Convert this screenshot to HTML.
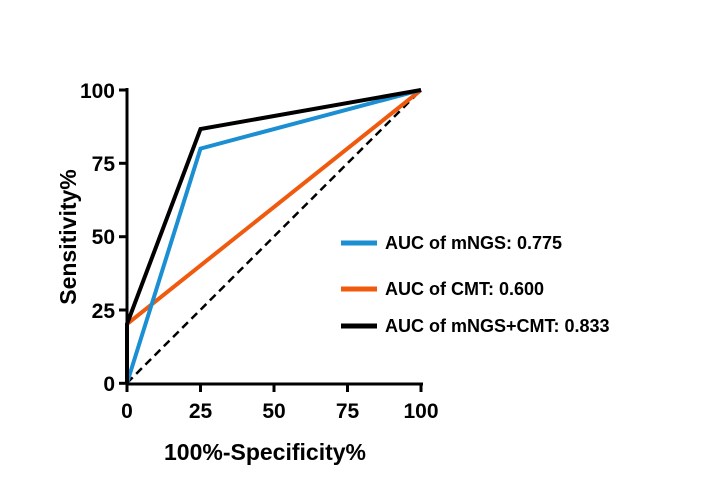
<!DOCTYPE html>
<html><head><style>body{margin:0;background:#fff}</style></head><body>
<svg width="706" height="497" xmlns="http://www.w3.org/2000/svg" font-family="Liberation Sans, sans-serif" font-weight="bold">
<rect width="706" height="497" fill="#fff"/>
<g stroke-linecap="butt" fill="none">
<line x1="127" y1="383" x2="421" y2="90" stroke="#000" stroke-width="2.5" stroke-dasharray="8,5"/>
<polyline points="127,383 127,324 421,90" stroke="#f05a0e" stroke-width="4"/>
<polyline points="127,383 200.5,148.6 421,90" stroke="#1b8fd2" stroke-width="4"/>
<polyline points="127,383 127,324 200.5,129 421,90" stroke="#000" stroke-width="4"/>
<polyline points="127,88 127,384 423,384" stroke="#000" stroke-width="3"/>
<g stroke="#000" stroke-width="3">
<line x1="119" y1="90" x2="127" y2="90"/><line x1="119" y1="163.3" x2="127" y2="163.3"/><line x1="119" y1="236.7" x2="127" y2="236.7"/><line x1="119" y1="310" x2="127" y2="310"/><line x1="119" y1="383.3" x2="127" y2="383.3"/>
<line x1="127" y1="383" x2="127" y2="392"/><line x1="200.5" y1="383" x2="200.5" y2="392"/><line x1="274" y1="383" x2="274" y2="392"/><line x1="347.5" y1="383" x2="347.5" y2="392"/><line x1="421" y1="383" x2="421" y2="392"/>
</g>
<line x1="341" y1="243" x2="377" y2="243" stroke="#1b8fd2" stroke-width="5"/>
<line x1="341" y1="289" x2="377" y2="289" stroke="#f05a0e" stroke-width="5"/>
<line x1="341" y1="326" x2="377" y2="326" stroke="#000" stroke-width="5"/>
</g>
<g font-size="21" text-anchor="end">
<text x="115" y="98">100</text><text x="115" y="171">75</text><text x="115" y="244">50</text><text x="115" y="318">25</text><text x="115" y="391">0</text>
</g>
<g font-size="21" text-anchor="middle">
<text x="127" y="418">0</text><text x="200.5" y="418">25</text><text x="274" y="418">50</text><text x="347.5" y="418">75</text><text x="421" y="418">100</text>
</g>
<text x="265" y="460" font-size="23" text-anchor="middle">100%-Specificity%</text>
<text transform="translate(76,237) rotate(-90)" font-size="23" text-anchor="middle">Sensitivity%</text>
<g font-size="18">
<text x="385" y="249">AUC of mNGS: 0.775</text>
<text x="385" y="295">AUC of CMT: 0.600</text>
<text x="385" y="332">AUC of mNGS+CMT: 0.833</text>
</g>
</svg>
</body></html>
